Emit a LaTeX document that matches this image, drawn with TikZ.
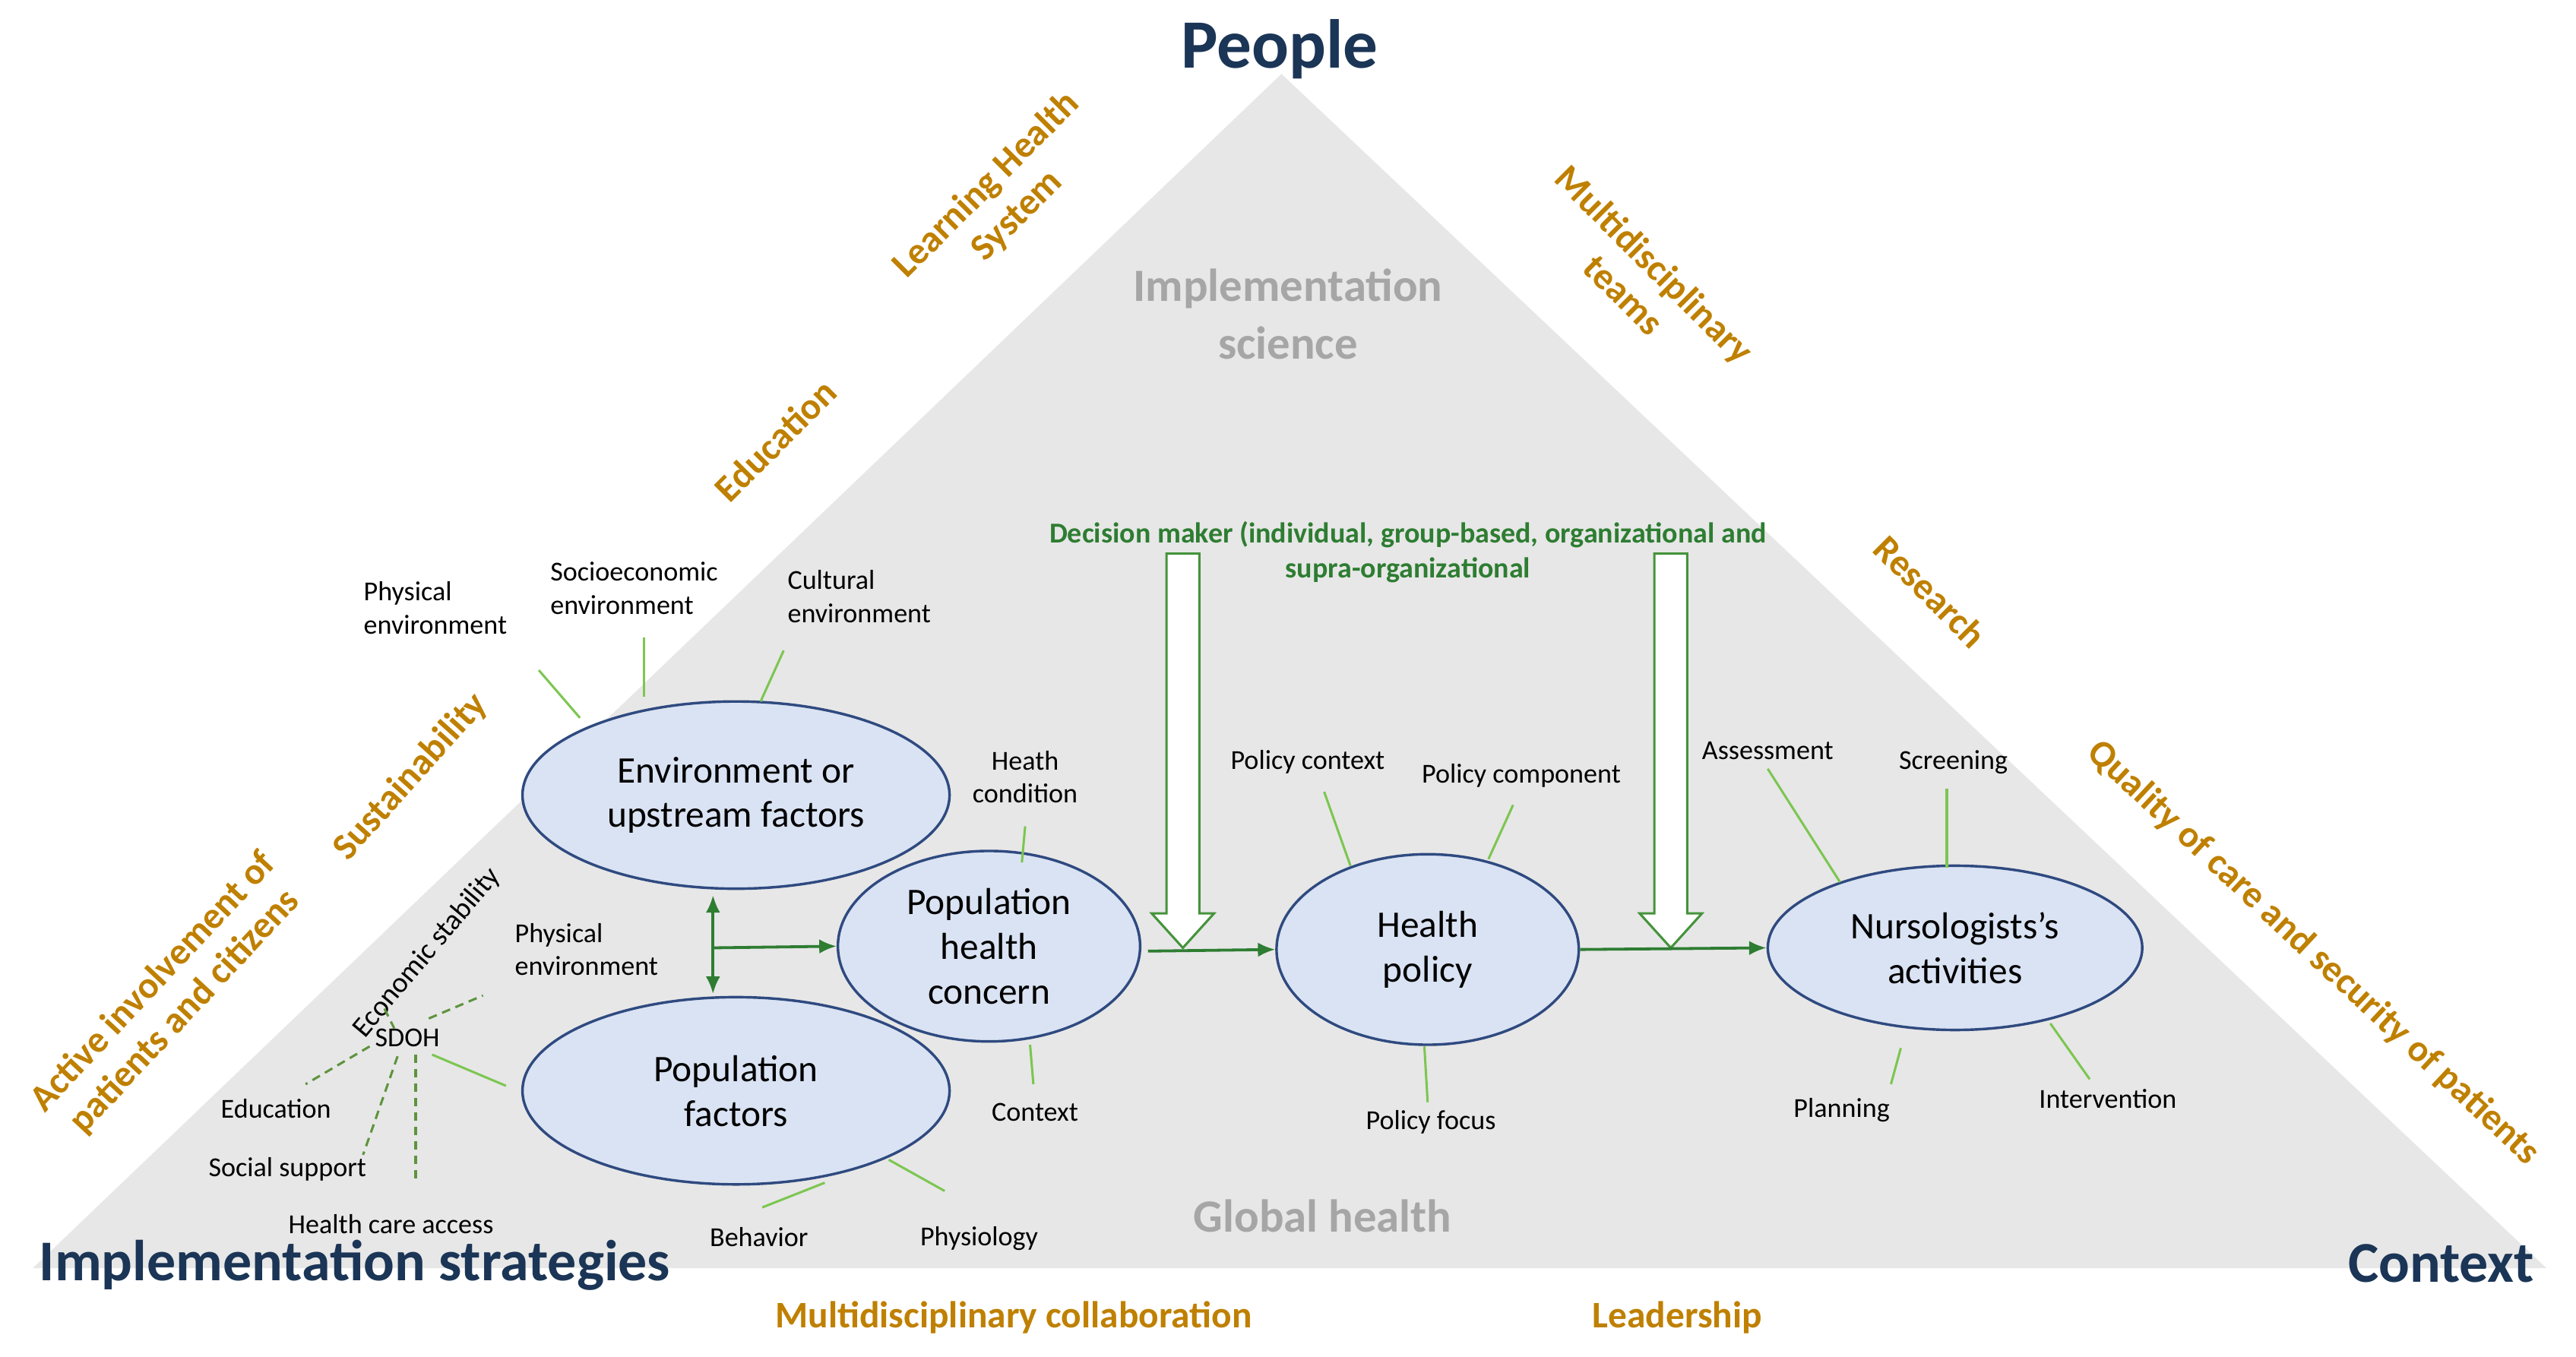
\documentclass[tikz,border=0pt]{standalone}
\usepackage{fontspec}
\setmainfont{Carlito}
\usetikzlibrary{arrows.meta,shapes.geometric}
\definecolor{tri}{HTML}{E7E7E7}
\definecolor{ell}{HTML}{DAE3F3}
\definecolor{ellb}{HTML}{2F4A80}
\definecolor{dg}{HTML}{2E7D32}
\definecolor{lg}{HTML}{7CC651}
\definecolor{org}{HTML}{BF8000}
\definecolor{navy}{HTML}{1B3556}
\definecolor{gtx}{HTML}{A6A6A6}
\begin{document}
\begin{tikzpicture}[x=0.02cm,y=-0.02cm,
 el/.style={ellipse,draw=ellb,line width=0.9pt,fill=ell,align=center,inner sep=0pt,font=\fontsize{13}{15.5}\selectfont},
 sm/.style={align=left,font=\fontsize{9.5}{11.5}\selectfont,inner sep=1pt},
 smc/.style={align=center,font=\fontsize{9.5}{11.5}\selectfont,inner sep=1pt},
 or/.style={text=org,font=\bfseries\fontsize{13}{15}\selectfont,align=center},
 nv/.style={text=navy,font=\bfseries\fontsize{20}{24}\selectfont},
 gt/.style={text=gtx,font=\bfseries\fontsize{16}{20}\selectfont,align=center},
 ln/.style={lg,line width=0.8pt},
 dl/.style={lg!75!black,line width=0.8pt,dash pattern=on 3pt off 2pt},
 ga/.style={dg,line width=1pt,-{Latex[length=6pt,width=5pt]}},
 ga2/.style={dg,line width=1pt,{Latex[length=6pt,width=5pt]}-{Latex[length=6pt,width=5pt]}},
 big/.style={draw=dg!70!lg,fill=white,line width=0.8pt}]
\useasboundingbox (0,0) rectangle (1568,826);
\fill[tri] (780,45) -- (20,772) -- (1550,772) -- cycle;
% titles
\node[nv,font=\bfseries\fontsize{24}{28}\selectfont] (people) at (779,30) {People};
\node[nv] (impl) at (216,770) {Implementation strategies};
\node[nv] (ctx) at (1486,769) {Context};
\node[gt] (isci) at (784,191) {Implementation\\science};
\node[gt] (gh) at (805,740) {Global health};
% orange
\node[or,rotate=45] (lhs) at (610,122) {Learning Health\\System};
\node[or,rotate=45] (edu) at (472,268) {Education};
\node[or,rotate=48] (sus) at (250,473) {Sustainability};
\node[or,rotate=47] (act) at (103,607) {Active involvement of\\patients and citizens};
\node[or,rotate=-45] (mt) at (998,170) {Multidisciplinary\\teams};
\node[or,rotate=-45] (res) at (1175,360) {Research};
\node[or,rotate=-43] (qual) at (1408,580) {Quality of care and security of patients};
\node[or] (mc) at (617,802) {Multidisciplinary collaboration};
\node[or] (lead) at (1021,802) {Leadership};
% decision maker
\node[text=dg,font=\bfseries\fontsize{10}{12}\selectfont,align=center] (dm) at (857,336) {Decision maker (individual, group-based, organizational and\\supra-organizational};
% big hollow arrows
\draw[big] (710,337) -- (730,337) -- (730,556) -- (739,556) -- (720,577) -- (701,556) -- (710,556) -- cycle;
\draw[big] (1007,337) -- (1027,337) -- (1027,556) -- (1036,556) -- (1017,577) -- (998,556) -- (1007,556) -- cycle;
% ellipses
\node[el,minimum width=5.2cm,minimum height=2.28cm] (env) at (448,484) {Environment or\\upstream factors};
\node[el,minimum width=5.2cm,minimum height=2.28cm] (pf) at (448,664) {Population\\factors};
\node[el,minimum width=3.68cm,minimum height=2.32cm] (phc) at (602,576) {Population\\health\\concern};
\node[el,minimum width=3.68cm,minimum height=2.32cm] (hp) at (869,578) {Health\\policy};
\node[el,minimum width=4.56cm,minimum height=2.0cm] (nur) at (1190,577) {Nursologists's\\activities};
% green arrows
\coordinate (va) at (434,545); \coordinate (vb) at (434,605); \coordinate (vm) at (434,577);
\draw[ga2] (va) -- (vb);
\draw[ga] (vm) -- (phc.west);
\draw[ga] (phc.east) ++(4,3) coordinate (pe) (pe) -- (hp.west);
\draw[ga] (hp.east) -- (nur.west);
% small labels
\node[sm] (l1) at (265,370) {Physical\\environment};
\node[sm] (l2) at (386,358) {Socioeconomic\\environment};
\node[sm] (l3) at (523,363) {Cultural\\environment};
\node[smc] (l4) at (624,473) {Heath\\condition};
\node[sm] (l5) at (630,677) {Context};
\node[sm] (l6) at (462,753) {Behavior};
\node[sm] (l7) at (596,754) {Physiology};
\node[sm] (l8) at (796,464) {Policy context};
\node[sm] (l9) at (926,472) {Policy component};
\node[sm] (l10) at (871,683) {Policy focus};
\node[sm] (l11) at (1076,457) {Assessment};
\node[sm] (l12) at (1189,464) {Screening};
\node[sm] (l13) at (1121,676) {Planning};
\node[sm] (l14) at (1283,669) {Intervention};
\node[sm] (l15) at (357,578) {Physical\\environment};
\node[sm] (sdoh) at (248,632) {SDOH};
\node[sm] (l16) at (168,675) {Education};
\node[sm] (l17) at (175,712) {Social support};
\node[sm] (l18) at (238,745) {Health care access};
\node[sm,rotate=50,font=\fontsize{10}{12}\selectfont] (l19) at (260,580) {Economic stability};
% light green lines
\draw[ln] (328,408) -- (353,437);
\draw[ln] (392,388) -- (392,424);
\draw[ln] (477,396) -- (463,427);
\draw[ln] (624,503) -- (622,525);
\draw[ln] (629,660) -- (627,636);
\draw[ln] (464,735) -- (502,720);
\draw[ln] (575,725) -- (541,706);
\draw[ln] (806,482) -- (822,527);
\draw[ln] (921,490) -- (906,523);
\draw[ln] (869,671) -- (867,637);
\draw[ln] (1076,468) -- (1120,537);
\draw[ln] (1185,480) -- (1185,528);
\draw[ln] (1157,638) -- (1151,660);
\draw[ln] (1248,623) -- (1272,657);
\draw[ln] (263,642) -- (308,661);
\draw[dl] (261,620) -- (294,606);
\draw[dl] (234,614) -- (240,626);
\draw[dl] (225,637) -- (186,660);
\draw[dl] (242,643) -- (221,703);
\draw[dl] (253,642) -- (253,718);
\end{tikzpicture}
\end{document}
